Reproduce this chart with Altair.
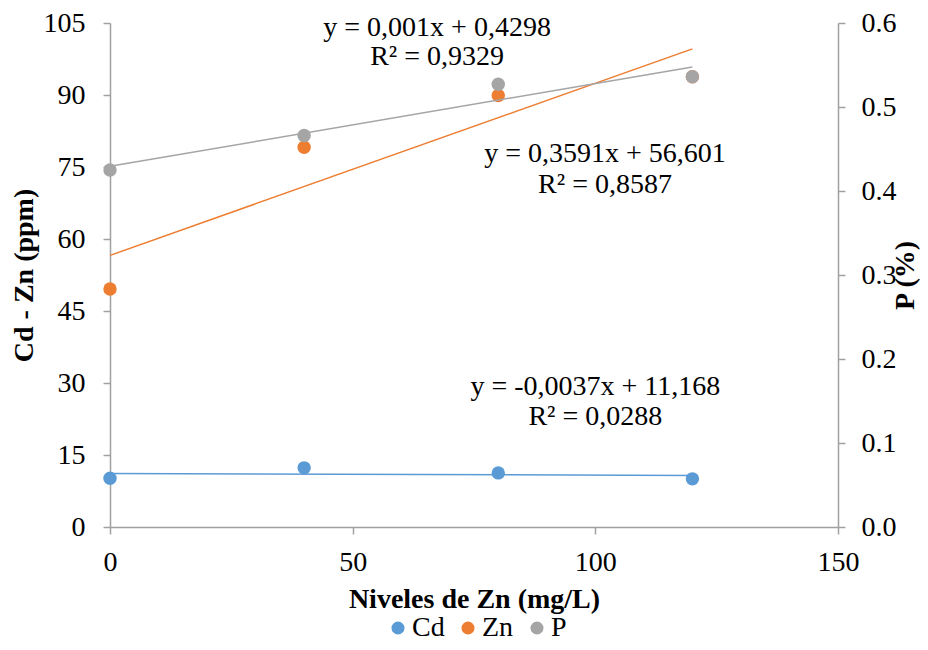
import altair as alt
import pandas as pd

# ---- data ----
niveles = [0, 40, 80, 120]
cd = [10.17, 12.32, 11.27, 10.03]
zn = [49.6, 79.1, 89.9, 93.8]
p = [0.425, 0.466, 0.527, 0.536]

series = ["Cd", "Zn", "P"]
colors = ["#5B9BD5", "#ED7D31", "#A5A5A5"]

left_ticks = [0, 15, 30, 45, 60, 75, 90, 105]
right_ticks = [0.0, 0.1, 0.2, 0.3, 0.4, 0.5, 0.6]
x_ticks = [0, 50, 100, 150]

# trendline equation labels (position in data units of x and left y)
eq_text = ["y = 0,001x + 0,4298", "R² = 0,9329",
           "y = 0,3591x + 56,601", "R² = 0,8587",
           "y = -0,0037x + 11,168", "R² = 0,0288"]
eq_x = [67.4, 67.4, 102.0, 102.0, 100.0, 100.0]
eq_y = [104.0, 97.9, 77.7, 71.2, 29.1, 22.9]

FONT = "Times New Roman, Liberation Serif, serif"
FS = 28
AX = "#A0A0A0"

left_df = pd.DataFrame({
    "x": niveles * 2,
    "y": cd + zn,
    "serie": ["Cd"] * len(cd) + ["Zn"] * len(zn),
})
right_df = pd.DataFrame({"x": niveles, "y": p, "serie": ["P"] * len(p)})
eq_df = pd.DataFrame({"x": eq_x, "y": eq_y, "t": eq_text})

color = alt.Color(
    "serie:N",
    scale=alt.Scale(domain=series, range=colors),
    legend=alt.Legend(
        title=None, orient="none", direction="horizontal",
        legendX=274, legendY=591, symbolType="circle", symbolSize=170,
        labelFont=FONT, labelFontSize=FS, labelColor="black",
        labelOffset=0, columnPadding=9, padding=0, symbolStrokeWidth=0,
    ),
)

x_enc = alt.X(
    "x:Q",
    scale=alt.Scale(domain=[0, 150], nice=False),
    axis=alt.Axis(
        values=x_ticks, title="Niveles de Zn (mg/L)", labelFlush=False,
        labelPadding=14, titleX=364, titleY=72, titleBaseline="middle",
        titleAlign="center",
    ),
)

y_left = alt.Y(
    "y:Q",
    scale=alt.Scale(domain=[0, 105], nice=False),
    axis=alt.Axis(
        values=left_ticks, title="Cd - Zn (ppm)", labelPadding=18,
        titleX=-86, titleY=252, titleAngle=270, titleAlign="center",
        titleBaseline="middle",
    ),
)

y_right = alt.Y(
    "y:Q",
    scale=alt.Scale(domain=[0, 0.6], nice=False),
    axis=alt.Axis(
        values=right_ticks, format=".1f", orient="right", title="P (%)",
        labelPadding=16, titleX=67, titleY=252, titleAngle=270,
        titleAlign="center", titleBaseline="middle",
    ),
)

base_left = alt.Chart(left_df)
left_lines = base_left.transform_regression(
    "x", "y", groupby=["serie"]
).mark_line(strokeWidth=1.5).encode(x=x_enc, y=y_left, color=color)
left_points = base_left.mark_circle(size=180, opacity=1).encode(
    x=x_enc, y=y_left, color=color
)
eq_layer = alt.Chart(eq_df).mark_text(
    font=FONT, fontSize=FS, color="black", align="center", baseline="middle"
).encode(x=alt.X("x:Q"), y=alt.Y("y:Q"), text="t:N")

left_layer = alt.layer(left_lines, left_points, eq_layer)

base_right = alt.Chart(right_df)
right_line = base_right.transform_regression("x", "y").mark_line(
    strokeWidth=1.5, color="#A5A5A5"
).encode(x=x_enc, y=y_right)
right_points = base_right.mark_circle(size=180, opacity=1).encode(
    x=x_enc, y=y_right, color=color
)
right_layer = alt.layer(right_line, right_points)

chart = (
    alt.layer(left_layer, right_layer)
    .resolve_scale(y="independent")
    .properties(
        width=728, height=504,
        autosize=alt.AutoSizeParams(type="none"),
        padding={"left": 102, "top": 15, "right": 82, "bottom": 114},
    )
    .configure_view(stroke=None)
    .configure_axis(
        grid=False, domainColor=AX, domainWidth=1.5, tickColor=AX,
        tickWidth=1.5, tickSize=7, labelFont=FONT, labelFontSize=FS,
        labelColor="black", titleFont=FONT, titleFontSize=FS,
        titleFontWeight="bold", titleColor="black",
    )
)

chart.save("out.html", embed_options={"renderer": "svg", "actions": False})
